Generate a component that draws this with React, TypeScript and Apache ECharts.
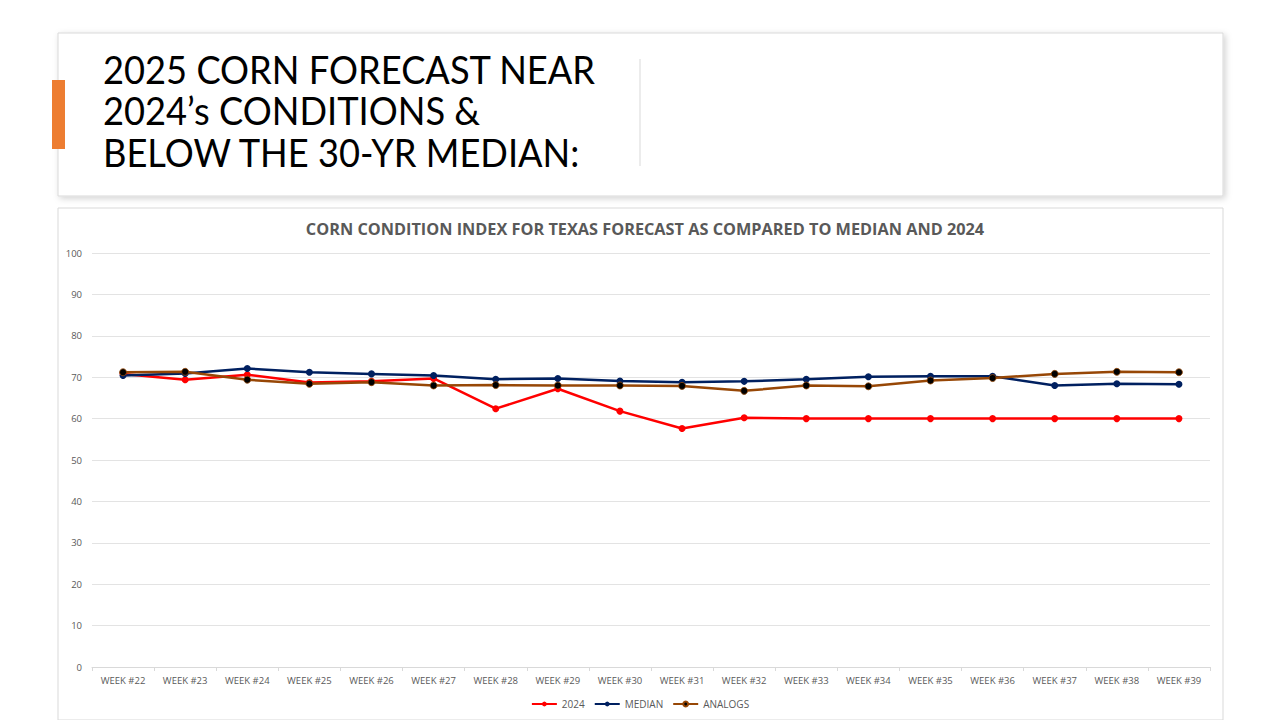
import React, { useEffect, useRef } from "react";
import * as echarts from "echarts";

const weeks = ["WEEK #22","WEEK #23","WEEK #24","WEEK #25","WEEK #26","WEEK #27","WEEK #28","WEEK #29","WEEK #30","WEEK #31","WEEK #32","WEEK #33","WEEK #34","WEEK #35","WEEK #36","WEEK #37","WEEK #38","WEEK #39"];
const s2024 = [70.8, 69.4, 70.6, 68.7, 69.0, 69.7, 62.4, 67.2, 61.8, 57.6, 60.2, 60.0, 60.0, 60.0, 60.0, 60.0, 60.0, 60.0];
const median = [70.4, 70.9, 72.1, 71.2, 70.8, 70.4, 69.5, 69.7, 69.1, 68.8, 69.0, 69.5, 70.1, 70.2, 70.2, 68.0, 68.4, 68.3];
const analogs = [71.2, 71.3, 69.4, 68.4, 68.8, 68.0, 68.1, 68.0, 68.0, 67.9, 66.7, 68.0, 67.8, 69.2, 69.8, 70.8, 71.3, 71.2];
const titleLines = ["2025 CORN FORECAST NEAR", "2024\u2019s CONDITIONS &", "BELOW THE 30-YR MEDIAN:"];
const chartTitle = "CORN CONDITION INDEX FOR TEXAS FORECAST AS COMPARED TO MEDIAN AND 2024";

export default function App() {
  const ref = useRef<HTMLDivElement>(null);
  useEffect(() => {
    document.body.style.margin = "0";
    const chart = echarts.init(ref.current!, null, { renderer: "svg" });
    chart.setOption({
      animation: false,
      backgroundColor: "#ffffff",
      textStyle: { fontFamily: "'Open Sans', sans-serif" },
      title: {
        text: chartTitle,
        left: 640,
        textAlign: "center",
        top: 216,
        textStyle: { fontSize: 16.3, fontWeight: "bold", color: "#595959", fontFamily: "'Open Sans', sans-serif" },
      },
      graphic: [
        {
          type: "rect",
          z: -10,
          shape: { x: 58, y: 33, width: 1165, height: 163 },
          style: { fill: "#fff", stroke: "#d9d9d9", lineWidth: 1, shadowBlur: 6, shadowOffsetX: 2, shadowOffsetY: 2, shadowColor: "rgba(0,0,0,0.18)" },
        },
        {
          type: "rect",
          z: -10,
          shape: { x: 58, y: 208, width: 1165, height: 512 },
          style: { fill: "#fff", stroke: "#d9d9d9", lineWidth: 1 },
        },
        { type: "rect", shape: { x: 52, y: 80, width: 13, height: 69 }, style: { fill: "#ed7d31" } },
        { type: "line", shape: { x1: 640, y1: 59, x2: 640, y2: 166 }, style: { stroke: "#d9d9d9", lineWidth: 1 } },
        {
          type: "text",
          x: 103,
          y: 48,
          scaleX: 0.93,
          style: {
            text: titleLines.join("\n"),
            fontSize: 39,
            fontFamily: "Lato, 'Open Sans', sans-serif",
            lineHeight: 41.5,
            fill: "#000",
            verticalAlign: "top",
          },
        },
      ],
      legend: {
        bottom: 6,
        left: "center",
        itemWidth: 25,
        itemHeight: 6,
        itemGap: 9,
        textStyle: { fontSize: 10, color: "#595959" },
        data: ["2024", "MEDIAN", "ANALOGS"],
      },
      grid: { left: 92, right: 70, top: 253, bottom: 53 },
      xAxis: {
        type: "category",
        data: weeks,
        boundaryGap: true,
        axisLine: { lineStyle: { color: "#d9d9d9" } },
        axisTick: { show: true, alignWithLabel: false, length: 4, lineStyle: { color: "#d9d9d9" } },
        axisLabel: { fontSize: 9.5, color: "#595959", margin: 8 },
      },
      yAxis: {
        type: "value",
        min: 0,
        max: 100,
        interval: 10,
        axisLine: { show: false },
        axisTick: { show: false },
        splitLine: { lineStyle: { color: "#e3e3e3" } },
        axisLabel: { fontSize: 9.5, color: "#595959", margin: 10 },
      },
      series: [
        {
          name: "2024", type: "line", data: s2024, symbol: "circle", symbolSize: 7,
          lineStyle: { color: "#ff0000", width: 2.5 }, itemStyle: { color: "#ff0000" },
        },
        {
          name: "MEDIAN", type: "line", data: median, symbol: "circle", symbolSize: 7,
          lineStyle: { color: "#002060", width: 2.5 }, itemStyle: { color: "#002060" },
        },
        {
          name: "ANALOGS", type: "line", data: analogs, symbol: "circle", symbolSize: 7,
          lineStyle: { color: "#974706", width: 2.5 }, itemStyle: { color: "#000000", borderColor: "#974706", borderWidth: 0.8 },
        },
      ],
    });
    return () => chart.dispose();
  }, []);
  return <div ref={ref} style={{ width: 1280, height: 720 }} />;
}
